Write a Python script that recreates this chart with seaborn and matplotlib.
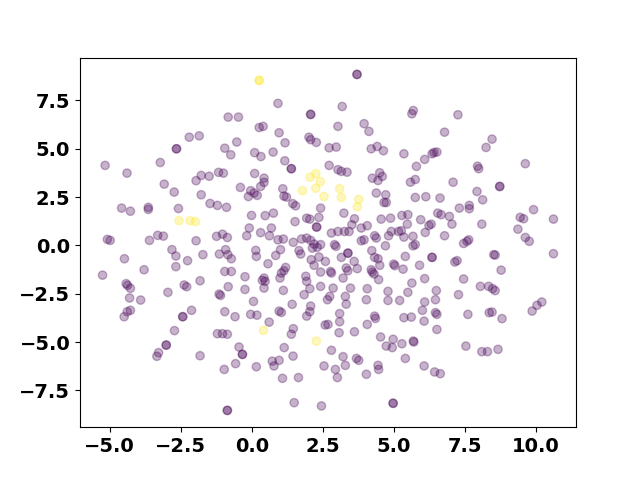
import numpy as np
import pandas as pd
import matplotlib
matplotlib.use("Agg")
import matplotlib.pyplot as plt
import seaborn as sns

# purple group (label 0); darker dots in the reference are entered twice
x_purple = [
    -5.16, -4.39, -3.22, -2.65, -2.65, -2.20, -1.85, -3.08, -2.73, -1.96, -1.78, -1.78,
    -4.58, -4.27, -3.64, -3.64, -2.58, -5.08, -4.98, -3.60, -3.31, -3.11, -1.96, -2.81,
    -2.67, -1.72, -4.48, -2.26, -2.67, -3.79, -5.25, -1.82, -4.42, -4.37, -4.27, -2.38,
    -2.29, -2.95, -4.30, -3.91, -4.49, -4.38, -4.27, -2.43, -2.43, -2.12, -2.72, -3.01,
    -3.01, -3.28, -3.34, -1.82,
    0.92, -0.83, -0.47, 0.26, 0.40, 0.96, 1.17, 2.07, 2.07, 2.01, 2.07, 2.27, -0.53,
    -0.95, -0.74, 0.10, 0.32, 0.75, 1.16, 1.39, 1.39, -1.50, -1.17, -1.00, 0.10, 0.43,
    3.70, 3.70, 3.18, 3.03, 3.95, 4.12, 5.68, 5.63, 6.78, 2.72, 2.97, 4.20, 4.41, 4.63,
    5.35, 6.08, 6.34, 6.41, 6.51, 5.79, 2.72, 3.03, 3.15, 3.35, 4.24, 4.50, 4.59, 4.44,
    5.75, 5.58,
    7.25, 8.45, 8.24, 7.94, 7.98, 9.62, 7.08,
    -0.40, -0.04, 0.08, -0.12, 0.19, 0.31, 0.43, 1.09, 1.13, 1.22, 1.44, 1.54, 2.42,
    2.36, -1.47, -1.21, -0.89, -0.01, 0.47, 0.76, 1.52, 1.93, 2.04, 2.28, 2.28, 0.69,
    -0.09, -0.18, 0.31, 0.62, -1.24, -1.03, -0.86, 0.92, 1.11, 1.46, 1.75, 1.93, 2.07,
    2.19, 2.30, 2.42, 2.13, -1.14, -0.92, -0.84, -0.72, 0.14, 0.16, 0.57, 0.84, 1.01,
    1.66, 1.72, 2.09, 2.19, 2.36, 2.42, 2.59, 1.19, 1.13, 1.04, 0.99, -0.95, -0.72,
    -0.24, 0.43, 0.47, 0.37, 1.90, 1.93, 2.04, 2.42, -0.83, -0.24, 0.43, 1.11, -1.15,
    -1.10, 0.06, 1.84, 2.66,
    4.38, 4.71, 4.73, 4.65, 5.75, 6.12, 6.62, 3.24, 3.61, 3.52, 3.85, 4.06, 4.55, 4.88,
    5.28, 5.49, 5.47, 5.26, 5.16, 5.94, 6.23, 6.31, 6.54, 6.66, 6.95, 6.10, 6.78, 4.91,
    4.81, 4.32, 4.38, 5.35, 5.67, 5.75, 5.67, 2.80, 3.03, 3.26, 3.42, 3.85, 3.95, 2.91,
    2.96, 4.70, 3.38, 3.38, 3.15, 2.77, 3.60, 3.71, 3.32, 3.38, 4.22, 4.32, 4.44, 4.50,
    4.20, 4.24, 4.30, 4.46, 4.99, 5.03, 5.32, 5.40, 5.90, 6.34, 6.34, 6.08, 5.63, 2.80,
    3.21, 2.86, 3.47, 4.06, 4.79, 6.49, 5.49, 2.74, 3.29, 3.32, 4.03, 4.79, 5.20, 6.08,
    6.46,
    8.72, 8.72, 7.92, 8.12, 7.30, 7.65, 7.65, 7.04, 8.09, 9.91, 9.44, 9.56, 10.61, 9.36,
    9.62, 9.76, 7.63, 7.57, 7.45, 10.61, 8.51, 8.56, 7.22, 7.14, 8.77, 7.45, 8.04, 8.33,
    8.47, 8.56, 7.27, 10.20, 10.03, 9.86,
    7.60, 8.35, 8.45, 8.80, 7.53, 8.09, 8.29, 8.66,
    6.00, 6.46, 3.09, 3.09, 2.68, 4.32, 4.35, 4.06, 5.35, 5.61, 6.06, 6.51, 6.51, 3.07,
    3.61, 4.53, 4.97, 4.73, 4.94, 5.28, 5.68, 5.70, 2.80, 3.21, 3.68, 3.76, 3.29, 2.94,
    3.01, 4.44, 4.46, 4.03, 5.40, 6.06, 6.43, 6.63, 4.97, 4.97,
    -0.95, -0.59, -0.04, 0.18, 0.96, 1.04, 1.42, 1.93, 2.04, 2.07, 0.61, -1.21, -1.03,
    -0.86, 1.46, 1.39, 2.58, -0.45, -0.33, -0.33, 1.14, 1.45, -0.57, 0.16, 0.72, 0.78,
    0.96, -0.97, 1.08, 1.64, 2.54, 1.49, 2.45, -0.86, -0.86,
]
y_purple = [
    4.14, 3.74, 4.29, 5.00, 5.00, 5.60, 5.67, 3.17, 2.76, 3.35, 3.62, 2.62,
    1.93, 1.77, 1.97, 1.86, 1.91, 0.31, 0.26, 0.26, 0.52, 0.48, 0.24, -0.22,
    -0.55, -0.48, -0.69, -0.79, -1.10, -1.26, -1.54, -1.83, -1.98, -2.07, -2.22, -2.05,
    -2.14, -2.43, -2.72, -2.83, -3.69, -3.43, -3.36, -3.69, -3.69, -3.36, -4.41, -5.16,
    -5.16, -5.55, -5.74, -5.71,
    7.35, 6.64, 6.64, 6.10, 6.16, 5.83, 5.31, 6.78, 6.78, 5.60, 5.47, 5.33, 5.35,
    5.03, 4.69, 4.80, 4.60, 4.83, 4.38, 3.97, 3.97, 3.58, 3.78, 3.74, 3.72, 3.48,
    8.85, 8.85, 7.19, 6.16, 6.30, 5.90, 6.98, 6.81, 5.86, 5.05, 5.09, 5.00, 5.12, 4.90,
    4.74, 4.45, 4.74, 4.81, 4.83, 4.09, 4.14, 3.92, 3.83, 3.79, 3.48, 3.76, 3.57, 3.36,
    3.41, 3.27,
    6.76, 5.50, 5.07, 4.10, 3.97, 4.23, 3.27,
    3.00, 2.83, 2.71, 2.53, 2.59, 3.05, 3.26, 2.93, 2.55, 2.50, 2.16, 2.05, 1.93,
    1.45, 2.17, 2.07, 1.97, 1.55, 1.54, 1.67, 1.23, 1.41, 1.36, 0.95, 0.95, 0.90,
    0.90, 0.50, 0.66, 0.50, 0.47, 0.58, 0.41, 0.29, 0.33, 0.16, 0.33, 0.38, 0.26,
    0.07, -0.10, 0.04, -0.14, -0.45, -0.22, -0.48, -0.69, -0.26, -0.57, -0.95, -0.52, -0.22,
    -0.27, -0.45, -0.74, -1.03, -0.60, -1.38, -0.83, -1.14, -1.31, -1.43, -1.69, -1.35, -1.35,
    -1.62, -1.69, -1.86, -1.81, -1.60, -1.86, -2.24, -2.12, -2.14, -2.28, -2.21, -2.33, -2.52,
    -2.59, -2.90, -2.55, -2.81,
    2.71, 2.62, 2.22, 2.22, 2.48, 2.52, 2.45, 1.67, 1.38, 1.07, 0.90, 1.02, 1.36, 1.41,
    1.55, 1.59, 1.10, 0.76, 0.72, 1.33, 1.03, 1.10, 1.67, 1.59, 1.50, 0.67, 0.50, 0.72,
    0.50, 0.50, 0.38, 0.43, 0.47, 0.04, -0.02, 0.64, 0.72, 0.72, 0.72, 0.24, 0.29, 0.04,
    -0.05, -0.02, -0.40, -0.40, -0.62, -1.35, -0.83, -1.20, -1.17, -1.31, -0.27, -0.62, -0.69, -1.03,
    -1.26, -1.38, -1.48, -1.77, -0.97, -1.05, -1.23, -0.57, -1.03, -0.62, -0.62, -1.72, -1.95, -1.43,
    -1.69, -2.21, -2.21, -2.24, -2.38, -2.34, -2.43, -2.64, -2.64, -3.04, -2.81, -2.85, -2.85, -2.93,
    -2.81,
    3.05, 3.05, 2.79, 2.36, 1.93, 2.07, 1.90, 1.10, 1.10, 1.85, 1.45, 1.38, 1.36, 0.84,
    0.41, 0.21, 0.29, 0.21, 0.10, -0.43, -0.48, -0.50, -0.79, -0.86, -1.28, -1.74, -2.12, -2.12,
    -2.24, -2.34, -2.55, -2.93, -3.10, -3.40,
    -3.57, -3.48, -3.45, -3.79, -5.21, -5.50, -5.50, -5.38,
    -3.36, -3.48, -3.53, -3.95, -4.09, -3.66, -3.78, -4.09, -3.74, -3.71, -3.92, -3.57, -4.35, -4.52,
    -4.47, -4.74, -4.86, -5.21, -5.29, -5.09, -4.95, -5.00, -5.43, -5.76, -5.85, -5.95, -6.21, -6.42,
    -6.84, -6.21, -6.42, -6.67, -5.85, -6.24, -6.55, -6.64, -8.17, -8.17,
    -3.43, -3.69, -3.57, -3.61, -3.40, -3.47, -3.05, -3.66, -3.43, -3.14, -3.97, -4.57, -4.57,
    -4.60, -4.31, -4.60, -4.12, -5.26, -5.64, -5.64, -5.29, -5.73, -6.12, -6.28, -5.99, -6.24,
    -5.95, -6.42, -6.88, -6.84, -6.24, -8.14, -8.31, -8.54, -8.54,
]

# yellow group (label 1)
x_yellow = [0.26, 0.26, -2.56, -2.17, -1.98, 1.78, 2.25, 2.41, 2.54, 2.05, 2.25, 3.09, 3.15, 3.76, 3.71, 0.41, 2.27]
y_yellow = [8.54, 8.54, 1.28, 1.28, 1.23, 2.83, 2.96, 3.30, 2.53, 3.53, 3.71, 2.93, 2.48, 2.38, 2.00, -4.40, -4.95]

df = pd.DataFrame({
    "x": x_purple + x_yellow,
    "y": y_purple + y_yellow,
    "label": [0] * len(x_purple) + [1] * len(x_yellow),
})

# viridis end colours for the two labels
colors = {0: "#440154", 1: "#fde725"}

fig, ax = plt.subplots(figsize=(6.4, 4.8), dpi=100)
sns.scatterplot(data=df, x="x", y="y", hue="label", palette=colors,
                alpha=0.3, s=36, edgecolor="face", linewidth=1, legend=False, ax=ax)
ax.set_xlabel("")
ax.set_ylabel("")
ax.set_xticks([-5.0, -2.5, 0.0, 2.5, 5.0, 7.5, 10.0])
ax.set_yticks([-7.5, -5.0, -2.5, 0.0, 2.5, 5.0, 7.5])
for lab in ax.get_xticklabels() + ax.get_yticklabels():
    lab.set_fontfamily("DejaVu Sans")
    lab.set_fontsize(14)
    lab.set_fontweight("bold")
fig.savefig("out.png", dpi=100)
